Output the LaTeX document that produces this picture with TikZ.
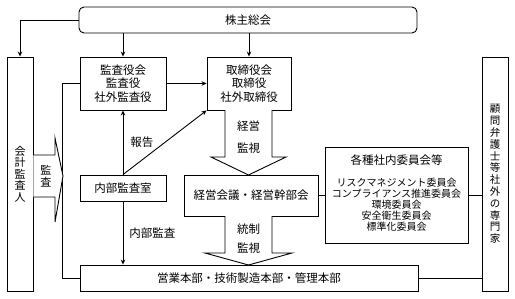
\documentclass[tikz,border=0pt]{standalone}
\usepackage{fontspec}
\setmainfont{Noto Sans CJK JP}
\usetikzlibrary{arrows.meta,calc,positioning}
\tikzset{
 chart/.style={x=1pt,y=-1pt,line join=miter,font=\fontsize{11.5}{13}\selectfont},
 orgbox/.style={draw,line width=.9pt,fill=white,inner sep=1pt,align=center},
 tate/.style={orgbox,font=\fontsize{11}{11.6}\selectfont},
 link/.style={draw,line width=.9pt},
 feed/.style={link,-{Stealth[length=5pt,width=4.5pt]}},
 bigarrow/.style={draw,line width=.9pt,fill=white},
 tag/.style={inner sep=0pt,align=center},
 small/.style={font=\fontsize{10}{11}\selectfont}
}

\begin{document}
\begin{tikzpicture}[chart]
 \useasboundingbox (0,0) rectangle (515,298);
 % boxes
 \node[orgbox,rounded corners=5pt,minimum width=338pt,minimum height=26pt] (kabu) at (248,20) {株主総会};
 \node[tate,minimum width=26pt,minimum height=234pt] (kaikei) at (20,174) {会\\計\\監\\査\\人};
 \node[orgbox,minimum width=86pt,minimum height=53pt,font=\fontsize{11.5}{13.5}\selectfont] (kansa) at (123,83.5) {監査役会\\監査役\\社外監査役};
 \node[orgbox,minimum width=84pt,minimum height=53pt,font=\fontsize{11.5}{13.5}\selectfont] (tori) at (249,83.5) {取締役会\\取締役\\社外取締役};
 \node[orgbox,minimum width=86pt,minimum height=26pt] (naibu) at (123,188) {内部監査室};
 \node[orgbox,minimum width=134pt,minimum height=41pt] (keiei) at (251,195.5) {経営会議・経営幹部会};
 \node[orgbox,minimum width=143pt,minimum height=96pt] (iinkai) at (396.5,195) {};
 \node[tag] (iinkaiT) at (396.5,160) {各種社内委員会等};
 \node[tag,small,anchor=north] (iinkaiL) at (396.5,178) {リスクマネジメント委員会\\コンプライアンス推進委員会\\環境委員会\\安全衛生委員会\\標準化委員会};
 \node[tate,minimum width=26pt,minimum height=234pt,font=\fontsize{10.5}{11.8}\selectfont] (komon) at (495,174) {顧\\問\\弁\\護\\士\\等\\社\\外\\の\\専\\門\\家};
 \node[orgbox,minimum width=338pt,minimum height=26pt] (eigyo) at (249,278) {営業本部・技術製造本部・管理本部};
 \coordinate (bus) at (62,0);
 % connectors
 \draw[feed] (kabu.west) -| (kaikei.north);
 \draw[feed] (kansa.north |- kabu.south) -- (kansa.north);
 \draw[feed] (tori.north |- kabu.south) -- (tori.north);
 \draw[feed] (kansa.east) -- (tori.west);
 \draw[feed] (naibu.north) -- (kansa.south) node[tag,midway,right=7pt] (hokoku) {報告};
 \draw[feed] (naibu.north) -- (tori.south west);
 \draw[feed] (naibu.south) -- (eigyo.north -| naibu.south) node[tag,midway,right=6pt] (naibuK) {内部監査};
 \draw[link] (kansa.west) -- (kansa.west -| bus) |- (eigyo.west);
 \draw[link] (keiei.east) -- (iinkai.west |- keiei.east);
 \draw[link] (iinkai.east) -- (iinkai.east -| komon.west);
 \draw[link] (eigyo.east) -- (eigyo.east -| komon.west);
 % block arrows
 \draw[bigarrow] (kaikei.east |- 0,155) -- (55,155) -- (55,138) -- (63,176) -- (55,222) -- (55,197) -- (kaikei.east |- 0,197);
 \node[tag,font=\fontsize{11}{12.5}\selectfont] (kansaK) at (46,176) {監\\査};
 \draw[bigarrow] (225,110) -- (225,157) -- (211,157) -- (248.5,175) -- (286,157) -- (272,157) -- (272,110);
 \node[tag] (keieiA) at (248.5,126) {経営};
 \node[tag] (keieiB) at (248.5,148) {監視};
 \draw[bigarrow] (225,216) -- (225,253) -- (205,253) -- (248.5,265) -- (292,253) -- (272,253) -- (272,216);
 \node[tag] (toseiA) at (248.5,229) {統制};
 \node[tag] (toseiB) at (248.5,248) {監視};
\end{tikzpicture}
\end{document}
